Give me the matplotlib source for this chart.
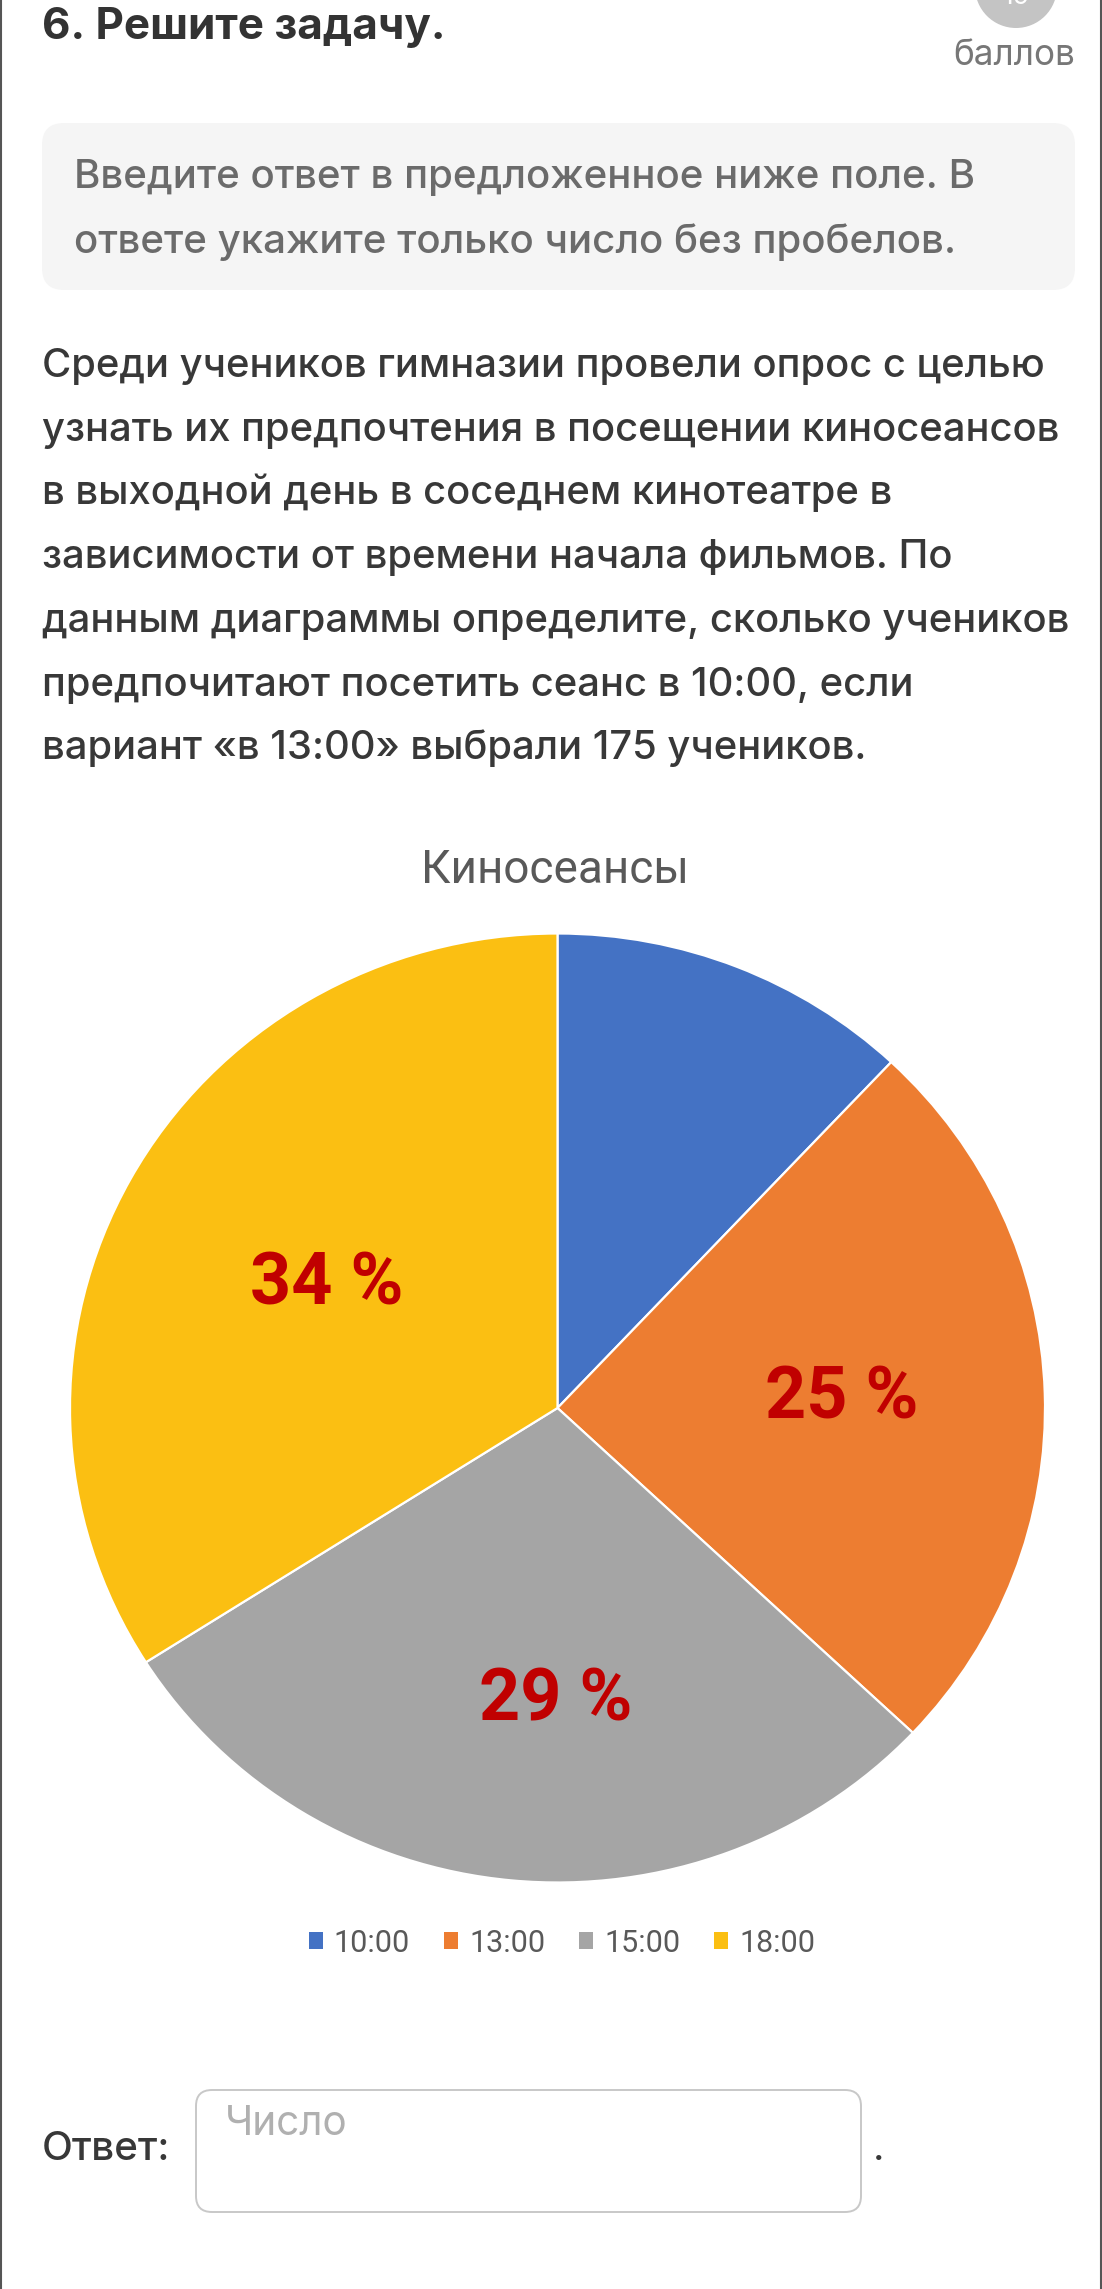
import numpy as np
import matplotlib
matplotlib.use("Agg")
import matplotlib.pyplot as plt
from matplotlib.patches import FancyBboxPatch, Circle, Patch
from matplotlib.lines import Line2D

# ---------------- data ----------------
sessions = ["10:00", "13:00", "15:00", "18:00"]
shares = [12, 25, 29, 34]
shown_labels = ["", "25 %", "29 %", "34 %"]
slice_colors = ["#4472C4", "#ED7D31", "#A5A5A5", "#FBBF12"]
chart_title = "Киносеансы"

question_title = "6. Решите задачу."
points_value = "15"
points_word = "баллов"
hint_lines = ["Введите ответ в предложенное ниже поле. В",
              "ответе укажите только число без пробелов."]
task_lines = ["Среди учеников гимназии провели опрос с целью",
              "узнать их предпочтения в посещении киносеансов",
              "в выходной день в соседнем кинотеатре в",
              "зависимости от времени начала фильмов. По",
              "данным диаграммы определите, сколько учеников",
              "предпочитают посетить сеанс в 10:00, если",
              "вариант «в 13:00» выбрали 175 учеников."]
answer_label = "Ответ:"
answer_placeholder = "Число"

# label placement style (radius as fraction of pie radius, angular nudge in degrees)
label_radius = [0.0, 0.583, 0.617, 0.54]
label_nudge = [0.0, 0.0, 5.0, 0.0]

# ---------------- figure ----------------
W, H = 1102, 2289
DPI = 100
fig = plt.figure(figsize=(W / DPI, H / DPI), dpi=DPI)
fig.patch.set_facecolor("white")
ax0 = fig.add_axes([0, 0, 1, 1])
ax0.set_xlim(0, W)
ax0.set_ylim(H, 0)
ax0.axis("off")
renderer = fig.canvas.get_renderer()

PAGE_FONT = ["Inter", "Open Sans", "DejaVu Sans"]
CHART_FONT = ["Roboto", "DejaVu Sans"]


def fit_size(lines, width, **kw):
    best = 0
    for s in ([lines] if isinstance(lines, str) else lines):
        t = ax0.text(0, 0, s, fontsize=20, **kw)
        best = max(best, t.get_window_extent(renderer=renderer).width)
        t.remove()
    return 20 * width / best


def fit_text(x, y, s, width, ha="left", va="baseline", **kw):
    size = fit_size(s, width, **kw)
    return ax0.text(x, y, s, ha=ha, va=va, fontsize=size, **kw)


# side borders of the screenshot
ax0.add_line(Line2D([0.8, 0.8], [0, H], color="#555555", lw=1.5))
ax0.add_line(Line2D([W - 0.8, W - 0.8], [0, H], color="#555555", lw=1.5))

# header
fit_text(42, 39, question_title, 404, family=PAGE_FONT, fontweight="bold", color="#333333")
ax0.add_patch(Circle((1016, -13), 41, facecolor="#c4c4c4", edgecolor="none"))
ax0.text(1016, -3, points_value, ha="center", va="center", fontsize=19,
         color="white", family=PAGE_FONT)
fit_text(1075, 65, points_word, 122, ha="right", family=PAGE_FONT, color="#777777")

# hint box
ax0.add_patch(FancyBboxPatch((42, 123), 1033, 167,
                             boxstyle="round,pad=0,rounding_size=22",
                             facecolor="#f5f5f5", edgecolor="none"))
hs = fit_size(hint_lines, 899, family=PAGE_FONT, fontweight="medium")
for i, line in enumerate(hint_lines):
    ax0.text(74, 188 + 65 * i, line, fontsize=hs, family=PAGE_FONT, color="#6b6b6b",
             fontweight="medium", va="baseline")

# task text
ts = fit_size(task_lines, 1026, family=PAGE_FONT, fontweight="medium")
for i, line in enumerate(task_lines):
    ax0.text(42, 377 + 63.7 * i, line, fontsize=ts, family=PAGE_FONT, color="#383838",
             fontweight="medium", va="baseline")

# chart title
fit_text(555, 883, chart_title, 267, ha="center", family=CHART_FONT, color="#595959")

# ---------------- pie ----------------
cx, cy, rx, ry = 557.5, 1408, 487.5, 474.5
axp = fig.add_axes([(cx - rx) / W, 1 - (cy + ry) / H, 2 * rx / W, 2 * ry / H])
wedges, _t = axp.pie(
    shares, colors=slice_colors, startangle=90, counterclock=False, radius=1,
    wedgeprops=dict(edgecolor="white", linewidth=1.6, clip_on=False))
axp.set_aspect("auto")
axp.set_xlim(-1, 1)
axp.set_ylim(-1, 1)
axp.axis("off")
ls = fit_size("34 %", 153, family=CHART_FONT, fontweight="bold")
for w, lab, rr, dn in zip(wedges, shown_labels, label_radius, label_nudge):
    if not lab:
        continue
    ang = np.deg2rad((w.theta1 + w.theta2) / 2 + dn)
    axp.text(rr * np.cos(ang), rr * np.sin(ang), lab, ha="center", va="center",
             fontsize=ls, fontweight="bold", color="#C00000", family=CHART_FONT)

# legend
handles = [Patch(facecolor=c, edgecolor="none") for c in slice_colors]
lg_size = fit_size("10:00", 76, family=CHART_FONT)
px = lg_size * DPI / 72.0
leg = ax0.legend(handles, sessions, ncol=4, loc="center",
                 bbox_to_anchor=(562, 1943), bbox_transform=ax0.transData,
                 frameon=False, handlelength=14 / px, handleheight=14 / px,
                 handletextpad=11 / px, columnspacing=34 / px,
                 borderpad=0, borderaxespad=0,
                 prop=dict(family=CHART_FONT, size=lg_size))
for t in leg.get_texts():
    t.set_color("#595959")

# answer field
fit_text(42, 2160, answer_label, 128, family=PAGE_FONT, fontweight="medium", color="#383838")
ax0.add_patch(FancyBboxPatch((196, 2090), 665, 122,
                             boxstyle="round,pad=0,rounding_size=16",
                             facecolor="white", edgecolor="#c8c8c8", linewidth=1.4))
fit_text(225, 2135, answer_placeholder, 123, family=PAGE_FONT, color="#b0b0b0")
ax0.text(873, 2160, ".", fontsize=ts, family=PAGE_FONT, color="#383838", va="baseline")

fig.savefig("out.png", dpi=DPI, facecolor="white")
